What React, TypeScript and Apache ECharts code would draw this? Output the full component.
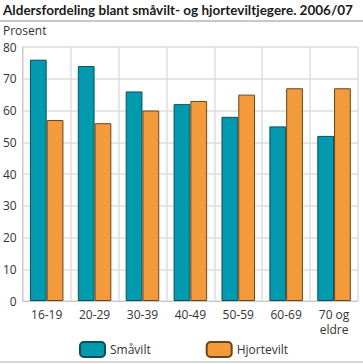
import React, { useEffect, useRef } from "react";
import * as echarts from "echarts";

const categories = ["16-19", "20-29", "30-39", "40-49", "50-59", "60-69", "70 og\neldre"];
const smavilt = [76, 74, 66, 62, 58, 55, 52];
const hjortevilt = [57, 56, 60, 63, 65, 67, 67];
const yTicks = { min: 0, max: 80, interval: 10 };

const FONT = "'Open Sans', 'Noto Sans', sans-serif";

export default function App() {
  const ref = useRef<HTMLDivElement>(null);
  useEffect(() => {
    if (!ref.current) return;
    const chart = echarts.init(ref.current, undefined, { renderer: "svg" });
    chart.setOption({
      animation: false,
      backgroundColor: "#ffffff",
      textStyle: { fontFamily: FONT },
      graphic: [
        {
          type: "text",
          left: 3,
          top: 3,
          style: {
            text: "Aldersfordeling blant småvilt- og hjorteviltjegere. 2006/07",
            font: "bold 13.5px Lato, sans-serif",
            fill: "#1a1a1a",
          },
        },
        {
          type: "line",
          shape: { x1: 0, y1: 21, x2: 363, y2: 21 },
          style: { stroke: "#c8c8c8", lineWidth: 2 },
        },
        {
          type: "text",
          left: 3,
          top: 24,
          style: { text: "Prosent", font: "12px " + FONT, fill: "#333" },
        },
        {
          type: "line",
          shape: { x1: 0, y1: 362, x2: 363, y2: 362 },
          style: { stroke: "#c8c8c8", lineWidth: 1.5 },
        },
      ],
      grid: { left: 20, right: 5, top: 47, bottom: 63, containLabel: false },
      legend: {
        left: 74,
        top: 336,
        itemWidth: 25,
        itemHeight: 15,
        itemGap: 55,
        textStyle: { fontSize: 12, color: "#333", fontFamily: FONT },
        data: ["Småvilt", "Hjortevilt"],
      },
      xAxis: {
        type: "category",
        data: categories,
        axisLine: { lineStyle: { color: "#c8c8c8" } },
        axisTick: { show: false },
        splitLine: { show: true, lineStyle: { color: "#dcdcdc", width: 1.5 } },
        axisLabel: { color: "#333", fontSize: 12, margin: 6, lineHeight: 15, interval: 0 },
      },
      yAxis: {
        type: "value",
        min: yTicks.min,
        max: yTicks.max,
        interval: yTicks.interval,
        axisLine: { show: true, lineStyle: { color: "#c8c8c8" } },
        axisTick: { show: false },
        splitLine: { lineStyle: { color: "#dcdcdc", width: 1.5 } },
        axisLabel: { color: "#333", fontSize: 12, margin: 6 },
      },
      series: [
        {
          name: "Småvilt",
          type: "bar",
          data: smavilt,
          barGap: "0%",
          barCategoryGap: "30%",
          itemStyle: { color: "#009aae", borderColor: "#0b4f5a", borderWidth: 1 },
        },
        {
          name: "Hjortevilt",
          type: "bar",
          data: hjortevilt,
          itemStyle: { color: "#f39a3a", borderColor: "#6b4520", borderWidth: 1 },
        },
      ],
    });
    return () => chart.dispose();
  }, []);
  return (
    <div
      ref={ref}
      style={{ position: "absolute", left: 0, top: 0, width: 363, height: 364 }}
    />
  );
}
